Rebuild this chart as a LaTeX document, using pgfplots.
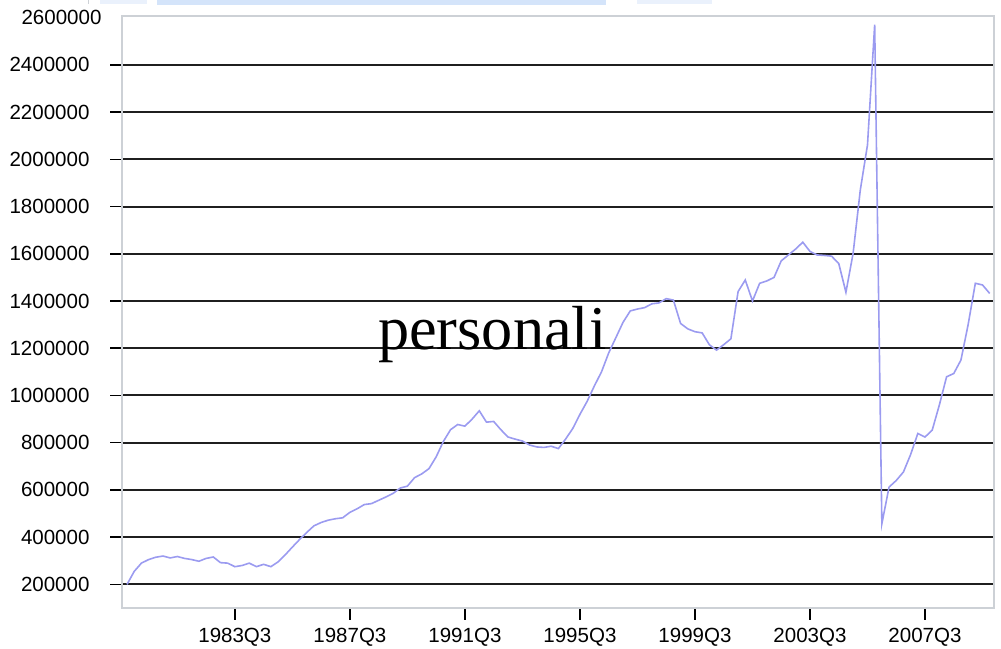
\documentclass[border=0pt]{standalone}
\usepackage{fontspec}
\newfontfamily\arialfont{Liberation Sans}
\newfontfamily\timesfont{Liberation Serif}
\usepackage{pgfplots}
\pgfplotsset{compat=1.18}
\definecolor{linec}{RGB}{155,155,240}
\definecolor{framec}{RGB}{205,209,214}
\definecolor{bannerc}{RGB}{212,228,250}
\pgfplotstableread{
k v
0 200000
1 255000
2 290000
3 305000
4 315000
5 320000
6 312000
7 318000
8 310000
9 305000
10 298000
11 310000
12 316000
13 292000
14 290000
15 275000
16 280000
17 290000
18 275000
19 285000
20 275000
21 295000
22 325000
23 358000
24 390000
25 420000
26 448000
27 462000
28 472000
29 478000
30 482000
31 505000
32 520000
33 538000
34 542000
35 556000
36 570000
37 585000
38 608000
39 616000
40 652000
41 668000
42 690000
43 740000
44 805000
45 855000
46 877000
47 870000
48 900000
49 935000
50 887000
51 890000
52 855000
53 824000
54 815000
55 807000
56 790000
57 782000
58 780000
59 785000
60 775000
61 815000
62 860000
63 920000
64 975000
65 1040000
66 1100000
67 1180000
68 1245000
69 1310000
70 1358000
71 1366000
72 1372000
73 1388000
74 1392000
75 1410000
76 1404000
77 1305000
78 1282000
79 1270000
80 1265000
81 1215000
82 1192000
83 1215000
84 1240000
85 1440000
86 1489000
87 1400000
88 1475000
89 1485000
90 1500000
91 1570000
92 1595000
93 1620000
94 1649000
95 1610000
96 1595000
97 1593000
98 1590000
99 1559000
100 1437000
101 1602000
102 1870000
103 2061000
104 2570000
105 457000
106 612000
107 640000
108 676000
109 750000
110 839000
111 824000
112 853000
113 960000
114 1079000
115 1093000
116 1150000
117 1300000
118 1475000
119 1468000
120 1432000
}\datatable
\begin{document}
\begin{tikzpicture}[x=1bp,y=1bp]
\useasboundingbox (0,0) rectangle (1001,649);
\fill[bannerc] (157,644) rectangle (606,649);
\fill[bannerc!50] (637,645) rectangle (712,649);
\fill[bannerc!50] (100,645) rectangle (147,649);
\draw[framec, line width=1bp] (88,645) -- (88,649);
\begin{axis}[
  at={(122bp,41bp)}, anchor=south west,
  scale only axis, width=872bp, height=592bp,
  xmin=-0.7, xmax=120.6, ymin=100000, ymax=2607000,
  xtick={15,31,47,63,79,95,111},
  xticklabels={1983Q3,1987Q3,1991Q3,1995Q3,1999Q3,2003Q3,2007Q3},
  ytick={200000,400000,...,2400000},
  extra y ticks={2600000},
  extra y tick style={grid=none, major tick length=0pt},
  scaled y ticks=false,
  y tick label style={xshift=-17bp, /pgf/number format/.cd, fixed, precision=0, 1000 sep={}},
  x tick label style={yshift=-5bp},
  /pgf/number format/assume math mode=true,
  ticklabel style={font=\arialfont\fontsize{20.6}{24}\selectfont, text=black},
  tick align=outside,
  tick pos=left,
  major tick length=12bp,
  tick style={black, line width=1.5bp},
  ymajorgrids,
  major grid style={black!88, line width=2bp},
  axis line style={framec, line width=2bp},
  clip=true,
]
\addplot[linec, line width=1.6bp, no marks] table[x=k, y=v] {\datatable};
\end{axis}
\node[anchor=base west, inner sep=0, font=\timesfont\fontsize{62.5}{64}\selectfont] at (378,299) {personali};
\end{tikzpicture}
\end{document}
